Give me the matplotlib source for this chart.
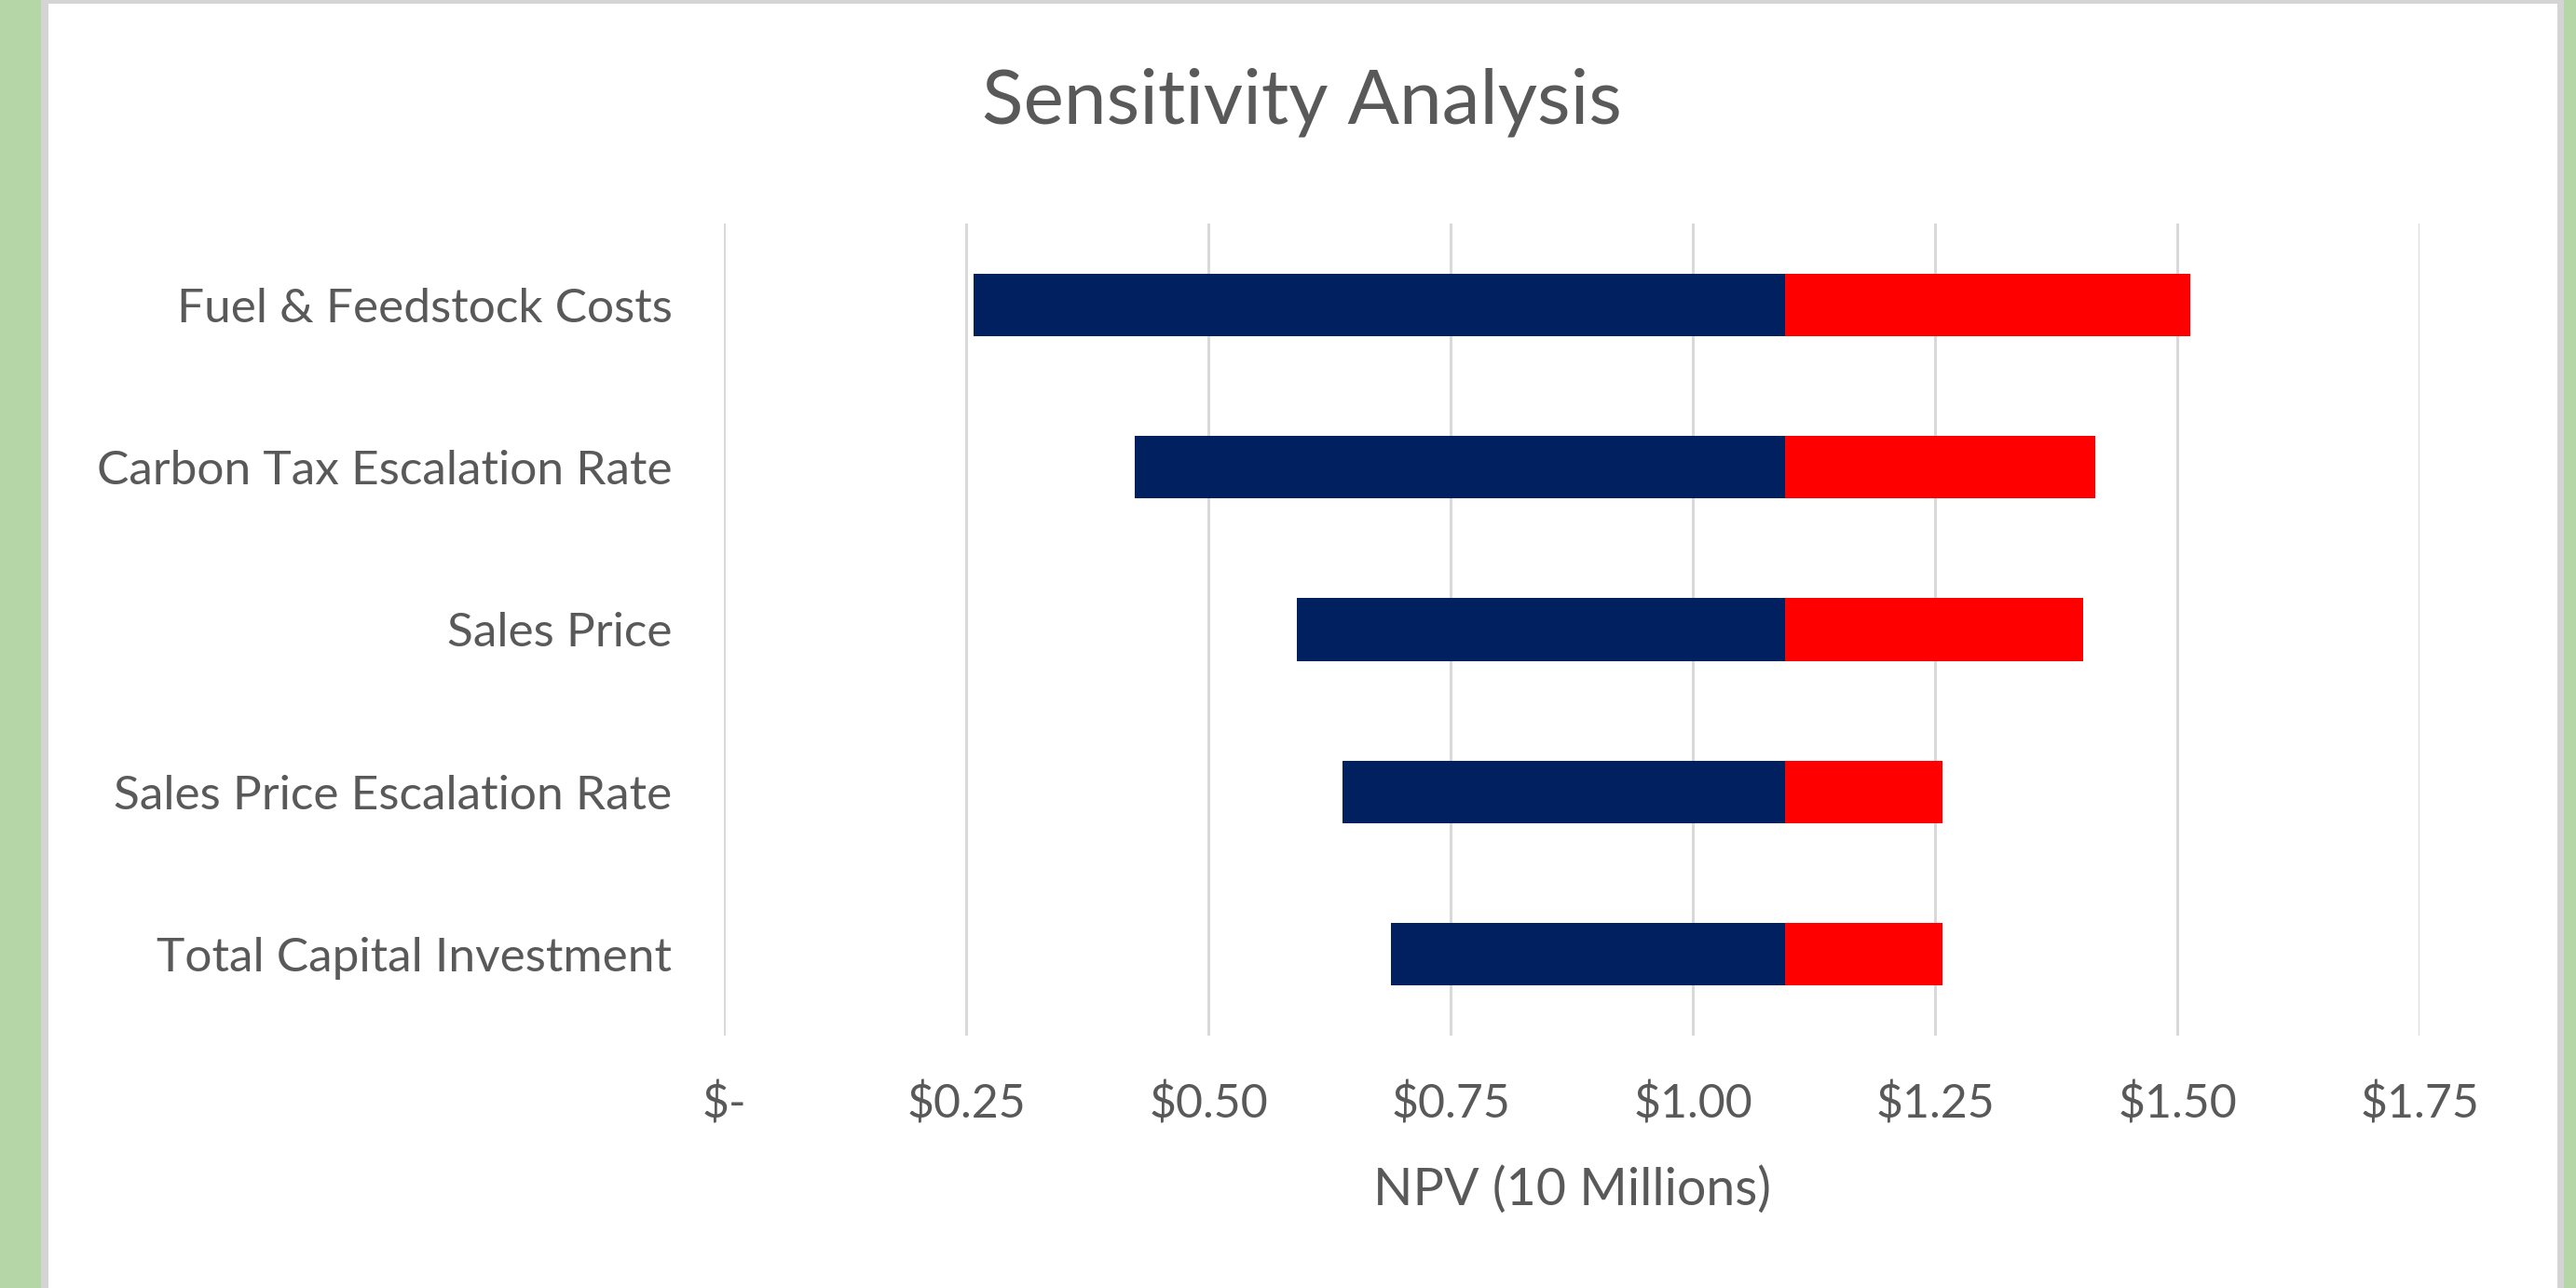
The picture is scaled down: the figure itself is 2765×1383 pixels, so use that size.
import matplotlib
matplotlib.use("Agg")
import matplotlib.pyplot as plt
from matplotlib.patches import Rectangle

# Tornado chart data: NPV in units of $10 millions
categories = [
    "Fuel & Feedstock Costs",
    "Carbon Tax Escalation Rate",
    "Sales Price",
    "Sales Price Escalation Rate",
    "Total Capital Investment",
]
low_npv = [0.258, 0.424, 0.591, 0.638, 0.688]
high_npv = [1.513, 1.415, 1.403, 1.258, 1.258]
base_npv = 1.095
tick_values = [0.0, 0.25, 0.50, 0.75, 1.00, 1.25, 1.50, 1.75]
tick_labels = ["$-", "$0.25", "$0.50", "$0.75", "$1.00", "$1.25", "$1.50", "$1.75"]

NAVY = "#002060"
RED = "#FF0000"
TEXT = "#595959"
GRID = "#D9D9D9"
GREEN = "#B5D6A7"

plt.rcParams["font.family"] = ["Lato", "DejaVu Sans"]

W, H = 2765, 1383
fig = plt.figure(figsize=(W / 100, H / 100), dpi=100)
fig.patch.set_facecolor(GREEN)

# white chart area with thin grey frame
def px_rect(x0, y0, x1, y1, color):
    fig.add_artist(Rectangle((x0 / W, 1 - y1 / H), (x1 - x0) / W, (y1 - y0) / H,
                             transform=fig.transFigure, facecolor=color,
                             edgecolor="none", zorder=0))

px_rect(44, 0, 2752, H, "#D4D4D4")
px_rect(52, 4, 2745, H, "white")

ax = fig.add_axes([777 / W, 1 - 1112 / H, (2597 - 777) / W, (1112 - 240) / H])
ax.set_facecolor("none")

y = list(range(len(categories)))
left_w = [base_npv - lo for lo in low_npv]
right_w = [hi - base_npv for hi in high_npv]
ax.barh(y, left_w, left=low_npv, height=0.385, color=NAVY, zorder=3)
ax.barh(y, right_w, left=base_npv, height=0.385, color=RED, zorder=3)

ax.set_xlim(0, 1.75)
ax.set_ylim(len(categories) - 0.5, -0.5)
ax.set_xticks(tick_values)
ax.set_xticklabels(tick_labels)
ax.set_yticks(y)
ax.set_yticklabels(categories)
ax.grid(axis="x", color=GRID, linewidth=2.2, zorder=0)
ax.set_axisbelow(True)
for s in ax.spines.values():
    s.set_visible(False)
ax.tick_params(axis="both", length=0, labelcolor=TEXT)
ax.tick_params(axis="x", pad=36, labelsize=36)
ax.tick_params(axis="y", pad=40, labelsize=37)

fig.text(1397 / W, 1 - 110 / H, "Sensitivity Analysis", ha="center", va="center",
         fontsize=59, color=TEXT)
fig.text(1687 / W, 1 - 1278 / H, "NPV (10 Millions)", ha="center", va="center",
         fontsize=40, color=TEXT)

fig.savefig("out.png", dpi=100, facecolor=fig.get_facecolor())
